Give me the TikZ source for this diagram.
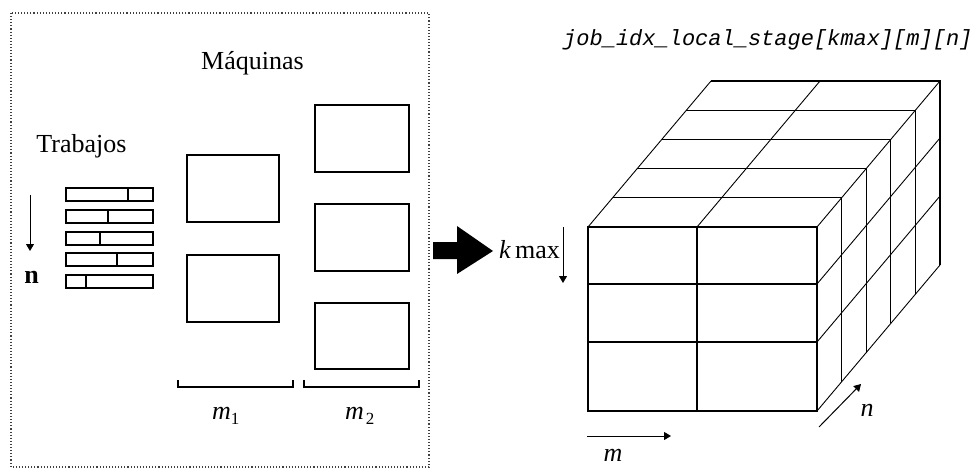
\documentclass[tikz,border=0pt]{standalone}
\usepackage{fontspec}
\setmainfont{Liberation Serif}
\newfontfamily\titlefont{Liberation Mono}
\usetikzlibrary{arrows.meta}
\begin{document}
\begin{tikzpicture}[x=1pt,y=-1pt,
  box/.style={draw, line width=1.3pt, inner sep=0pt},
  bar/.style={draw, line width=1.3pt},
  cubeline/.style={draw, line width=1.1pt},
  lbl/.style={inner sep=0pt, font=\fontsize{26}{28}\selectfont},
  smallarrow/.style={line width=1pt, -{Triangle[length=7pt,width=8pt]}}]
\useasboundingbox (0,0) rectangle (979,468);
% dotted frame
\draw[dotted, line width=1.1pt, black!75] (11,13) rectangle (429,467);
% labels left
\node[lbl, anchor=base] (maq) at (252.5,70) {Máquinas};
\node[lbl, anchor=base] (trab) at (81.5,153) {Trabajos};
\node[lbl, anchor=base, font=\fontsize{26}{28}\selectfont\bfseries] (nlab) at (31.5,283) {n};
\coordinate (na) at (30,195);
\coordinate (nb) at (30,251);
\draw[smallarrow] (na) -- (nb);
% job bars
\foreach \y/\d in {188/128, 210/108, 232/100, 253/117, 275/86}{
  \draw[bar] (66,\y) rectangle (153,\y+13);
  \draw[bar] (\d,\y) -- (\d,\y+13);
}
% machines
\node[box, minimum width=92pt, minimum height=67pt] (a1) at (233,188.5) {};
\node[box, minimum width=92pt, minimum height=67pt] (a2) at (233,288.5) {};
\node[box, minimum width=94pt, minimum height=67pt] (b1) at (362,138.5) {};
\node[box, minimum width=94pt, minimum height=67pt] (b2) at (362,237.5) {};
\node[box, minimum width=94pt, minimum height=66pt] (b3) at (362,336) {};
% brackets
\draw[line width=1.3pt] (178,380) -- (178,387) -- (293,387) -- (293,380);
\draw[line width=1.3pt] (304,380) -- (304,387) -- (419,387) -- (419,380);
\node[lbl, anchor=base west] (m1) at (212,419) {\itshape m\raisebox{-5pt}{\fontsize{17}{17}\selectfont\upshape 1}};
\node[lbl, anchor=base west] (m2) at (345,419) {\itshape m\hspace{2pt}\raisebox{-5pt}{\fontsize{17}{17}\selectfont\upshape 2}};
% big arrow
\fill (433,242) -- (457,242) -- (457,226) -- (493,251) -- (457,274) -- (457,259) -- (433,259) -- cycle;
% kmax
\node[lbl, anchor=base east] (kmax) at (560,258) {\itshape k\,\upshape max};
\coordinate (ka) at (563,227);
\coordinate (kb) at (563,283);
\draw[smallarrow] (ka) -- (kb);
% title
\node[inner sep=0pt, anchor=base west, font=\fontsize{22}{24}\selectfont\titlefont\itshape] (title) at (563,46) {job\_idx\_local\_stage[kmax][m][n]};
% cube
\foreach \i in {0,...,5}{
  \draw[cubeline] ({588+\i*24.6},{227-\i*29.2}) -- ({817+\i*24.6},{227-\i*29.2}) -- ({817+\i*24.6},{411-\i*29.2});
}
\draw[cubeline] (588,227) rectangle (817,411);
\draw[cubeline] (697,227) -- (697,411);
\draw[cubeline] (588,284) -- (817,284);
\draw[cubeline] (588,342) -- (817,342);
\foreach \p in {(588,227),(697,227),(817,227),(817,284),(817,342),(817,411)}{
  \draw[line width=0.9pt] \p -- ++(123,-146);
}
% m arrow
\coordinate (ma) at (587,436);
\coordinate (mb) at (671,436);
\draw[smallarrow] (ma) -- (mb);
\node[lbl, anchor=base] (mlab) at (613,461) {\itshape m};
% n arrow
\coordinate (nna) at (819,427);
\coordinate (nnb) at (861,384);
\draw[smallarrow] (nna) -- (nnb);
\node[lbl, anchor=base] (nlab2) at (867,416) {\itshape n};
\end{tikzpicture}
\end{document}
